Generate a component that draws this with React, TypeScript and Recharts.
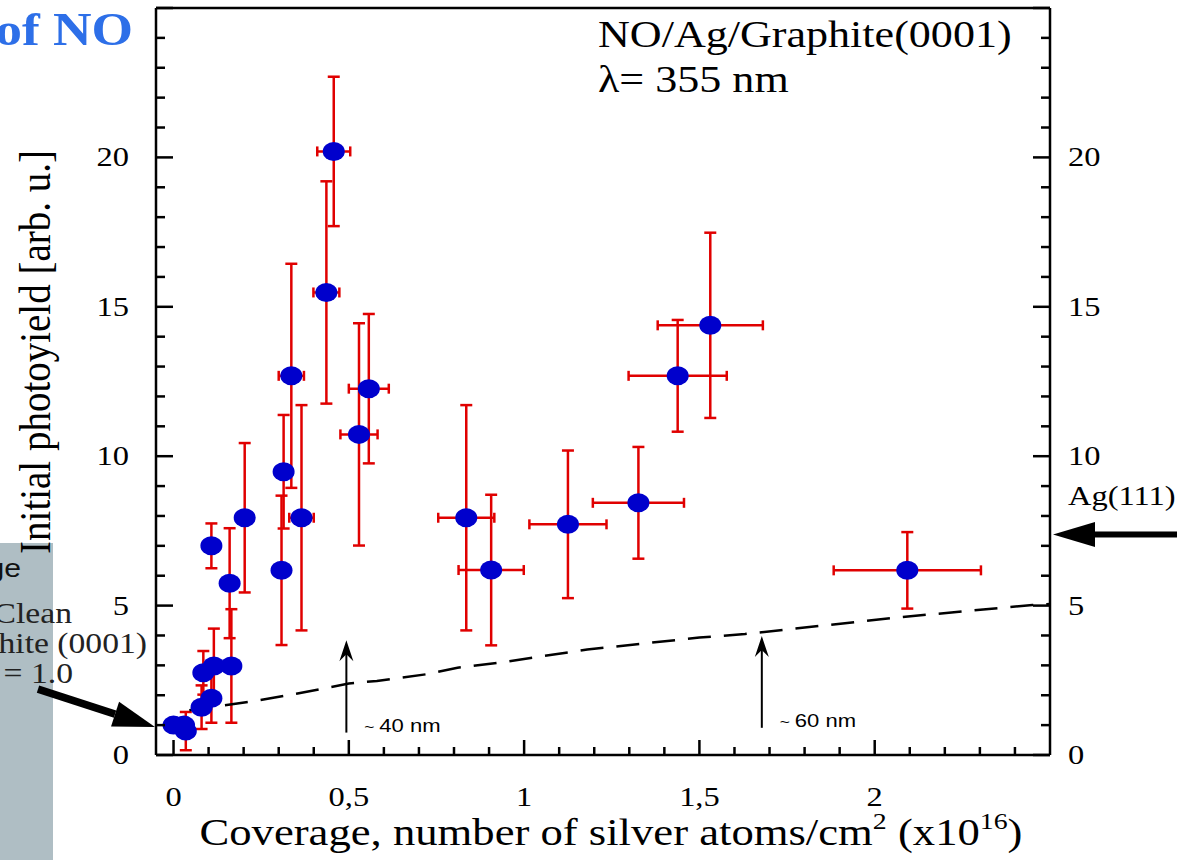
import React from 'react'
import { ScatterChart, Scatter, XAxis, YAxis, ErrorBar, ReferenceLine } from 'recharts'

// measured points: coverage (x10^16 atoms/cm2) vs initial photoyield
const coverage = [0.0, 0.03, 0.035, 0.08, 0.108, 0.085, 0.115, 0.165, 0.108, 0.16, 0.203, 0.308, 0.314, 0.336, 0.365, 0.436, 0.457, 0.529, 0.557, 0.835, 0.906, 1.125, 1.326, 1.438, 1.531, 2.093]
const photoyield = [1.0, 1.0, 0.8, 1.6, 1.9, 2.75, 2.98, 2.98, 7.0, 5.75, 7.94, 6.18, 9.48, 12.69, 7.94, 15.48, 20.2, 10.73, 12.26, 7.94, 6.19, 7.72, 8.44, 12.69, 14.38, 6.18]
const yieldErr = [0, 0, 0.64, 0.73, 0.82, 0.73, 1.25, 1.9, 0.75, 1.84, 2.5, 2.5, 1.9, 3.75, 3.77, 3.72, 2.5, 3.72, 2.5, 3.77, 2.52, 2.47, 1.87, 1.87, 3.1, 1.28]
const coverageErr = [0, 0, 0, 0, 0, 0, 0, 0, 0, 0, 0, 0, 0, 0.036, 0.035, 0.037, 0.047, 0.053, 0.057, 0.08, 0.093, 0.11, 0.13, 0.14, 0.15, 0.21]

// dashed model curve
const modelCoverage = [0.045, 0.23, 0.35, 0.5, 0.58, 0.72, 0.81, 0.93, 1.18, 1.5, 1.63, 2.08, 2.45, 2.5]
const modelYield = [1.5, 1.8, 2.05, 2.39, 2.48, 2.7, 2.92, 3.09, 3.53, 3.93, 4.05, 4.62, 5.02, 5.05]

const xTicks = [0, 0.1, 0.2, 0.3, 0.4, 0.5, 0.6, 0.7, 0.8, 0.9, 1, 1.1, 1.2, 1.3, 1.4, 1.5, 1.6, 1.7, 1.8, 1.9, 2, 2.1, 2.2, 2.3, 2.4]
const yTicks = [0, 1, 2, 3, 4, 5, 6, 7, 8, 9, 10, 11, 12, 13, 14, 15, 16, 17, 18, 19, 20, 21, 22, 23, 24, 25]

// thickness markers (arrows)
const markerCoverage = [0.493, 1.678]
const markerFrom = [0.75, 0.91]
const markerTo = [3.84, 3.98]
const markerLabels = ['40 nm', '60 nm']

const agLevel = 7.38
const cleanLevel = 1.0

const points = coverage.map((x, i) => ({ x, y: photoyield[i], ey: yieldErr[i], ex: coverageErr[i] }))
const model = modelCoverage.map((x, i) => ({ x, y: modelYield[i] }))

const SERIF = '"Liberation Serif", "Times New Roman", serif'
const SANS = '"Liberation Sans", Arial, sans-serif'
const SX = 1.16

function SText({ x, y, size, anchor = 'start', weight, fill = '#000', family = SERIF, children }: any) {
  return (
    <text
      transform={`translate(${x} ${y}) scale(${SX} 1)`}
      fontSize={size}
      textAnchor={anchor}
      fontFamily={family}
      fontWeight={weight}
      fill={fill}
    >
      {children}
    </text>
  )
}

const LeftTick = ({ x, y, payload }: any) => {
  const v = payload.value
  const major = v % 5 === 0
  return (
    <g>
      <line x1={x} y1={y} x2={x + (major ? 17 : 9)} y2={y} stroke="#000" strokeWidth={2.5} />
      {major && v < 25 && <SText x={x - 27} y={y + 9} size={28} anchor="end">{v}</SText>}
    </g>
  )
}

const RightTick = ({ x, y, payload }: any) => {
  const v = payload.value
  const major = v % 5 === 0
  return (
    <g>
      <line x1={x} y1={y} x2={x - (major ? 17 : 9)} y2={y} stroke="#000" strokeWidth={2.5} />
      {major && v < 25 && <SText x={x + 18} y={y + 9} size={28}>{v}</SText>}
    </g>
  )
}

const BottomTick = ({ x, y, payload }: any) => {
  const v = payload.value
  const major = Math.abs(v * 2 - Math.round(v * 2)) < 1e-6
  return (
    <g>
      <line x1={x} y1={y} x2={x} y2={y - (major ? 15 : 8)} stroke="#000" strokeWidth={2.5} />
      {major && <SText x={x} y={y + 51} size={28} anchor="middle">{String(v).replace('.', ',')}</SText>}
    </g>
  )
}

const Dot = ({ cx, cy }: any) => <ellipse cx={cx} cy={cy} rx={11} ry={9.5} fill="#0000cc" />

const makeMarker = (label: string) => (p: any) => {
  const x = p.x1
  const bottom = Math.max(p.y1, p.y2)
  const top = Math.min(p.y1, p.y2)
  return (
    <g>
      <line x1={x} y1={bottom} x2={x} y2={top + 8} stroke="#000" strokeWidth={2} />
      <path d={`M${x},${top} L${x + 7},${top + 21} L${x},${top + 14} L${x - 7},${top + 21} Z`} fill="#000" />
      <SText x={x + 18} y={bottom - 1} size={19} family={SANS}>
        <tspan fontSize={15}>~ </tspan>
        {label}
      </SText>
    </g>
  )
}

const AgArrow = (p: any) => {
  const x = Math.max(p.x1, p.x2)
  const y = p.y1
  return (
    <g>
      <rect x={x + 40} y={y - 3} width={87} height={6} fill="#000" />
      <path d={`M${x + 3},${y} L${x + 45},${y - 12.5} L${x + 45},${y + 12.5} Z`} fill="#000" />
    </g>
  )
}

const CleanArrow = (p: any) => {
  const tx = Math.min(p.x1, p.x2) - 1
  const ty = p.y1 + 2
  const sx = tx - 117
  const sy = ty - 38
  const len = Math.hypot(tx - sx, ty - sy)
  const ux = (tx - sx) / len
  const uy = (ty - sy) / len
  const nx = -uy
  const ny = ux
  const bx = tx - 42 * ux
  const by = ty - 42 * uy
  const w = 3.8
  const h = 13
  return (
    <g>
      <path
        d={`M${sx + nx * w},${sy + ny * w} L${bx + nx * w},${by + ny * w} L${bx - nx * w},${by - ny * w} L${sx - nx * w},${sy - ny * w} Z`}
        fill="#000"
      />
      <path d={`M${tx},${ty} L${bx + nx * h},${by + ny * h} L${bx - nx * h},${by - ny * h} Z`} fill="#000" />
    </g>
  )
}

export default function App() {
  return (
    <div style={{ position: 'absolute', left: 0, top: 0, width: 1202, height: 860, background: '#fff' }}>
      <svg width={1202} height={860} style={{ position: 'absolute', left: 0, top: 0 }}>
        <rect x={0} y={543} width={53} height={317} fill="#afbec4" />
      </svg>

      <div style={{ position: 'absolute', left: 0, top: 0 }}>
        <ScatterChart width={1202} height={860} margin={{ top: 8, right: 0, bottom: 0, left: 0 }}>
          <XAxis
            type="number"
            dataKey="x"
            domain={[-0.05, 2.5]}
            allowDataOverflow
            ticks={xTicks}
            interval={0}
            height={105}
            tickSize={0}
            tickMargin={0}
            tick={BottomTick}
            tickLine={false}
            axisLine={{ stroke: '#000', strokeWidth: 2.5 }}
          />
          <YAxis
            yAxisId="l"
            type="number"
            dataKey="y"
            domain={[0, 25]}
            allowDataOverflow
            ticks={yTicks}
            interval={0}
            width={156}
            tickSize={0}
            tickMargin={0}
            tick={LeftTick}
            tickLine={false}
            axisLine={{ stroke: '#000', strokeWidth: 2.5 }}
          />
          <YAxis
            yAxisId="r"
            orientation="right"
            type="number"
            dataKey="y"
            domain={[0, 25]}
            allowDataOverflow
            ticks={yTicks}
            interval={0}
            width={152}
            tickSize={0}
            tickMargin={0}
            tick={RightTick}
            tickLine={false}
            axisLine={{ stroke: '#000', strokeWidth: 2.5 }}
          />
          <ReferenceLine yAxisId="l" y={25} stroke="#000" strokeWidth={2.5} />
          <Scatter
            yAxisId="l"
            data={model}
            line={{ stroke: '#000', strokeWidth: 2.5, strokeDasharray: '23 13' }}
            lineType="joint"
            shape={() => <g />}
            isAnimationActive={false}
          />
          <Scatter yAxisId="l" data={points} shape={Dot} isAnimationActive={false}>
            <ErrorBar dataKey="ey" direction="y" width={6} stroke="#e00000" strokeWidth={2.5} />
            <ErrorBar dataKey="ex" direction="x" width={5} stroke="#e00000" strokeWidth={2.5} />
          </Scatter>
          {markerCoverage.map((c, i) => (
            <ReferenceLine
              key={i}
              yAxisId="l"
              segment={[{ x: c, y: markerFrom[i] }, { x: c, y: markerTo[i] }]}
              shape={makeMarker(markerLabels[i])}
            />
          ))}
          <ReferenceLine yAxisId="l" y={agLevel} shape={AgArrow} />
          <ReferenceLine yAxisId="l" y={cleanLevel} shape={CleanArrow} />
        </ScatterChart>
      </div>

      <svg width={1202} height={860} style={{ position: 'absolute', left: 0, top: 0, pointerEvents: 'none' }}>
        <SText x={133} y={45} size={46} anchor="end" weight="bold" fill="#2d6fe8">of NO</SText>
        <SText x={598} y={47} size={38}>NO/Ag/Graphite(0001)</SText>
        <SText x={598} y={92} size={38}>λ= 355 nm</SText>
        <SText x={1068} y={505} size={28}>Ag(111)</SText>
        <SText x={21} y={577} size={26} anchor="end" family={SANS} fill="#111">ge</SText>
        <SText x={72} y={623} size={29} anchor="end" fill="#222">Clean</SText>
        <SText x={147} y={653} size={29} anchor="end" fill="#222">hite (0001)</SText>
        <SText x={73} y={683} size={29} anchor="end" fill="#222">= 1.0</SText>
        <text
          transform={`translate(50 352) scale(${SX} 1) rotate(-90)`}
          fontSize={39}
          textAnchor="middle"
          fontFamily={SERIF}
          fill="#000"
        >
          Initial photoyield [arb. u.]
        </text>
        <SText x={611} y={845} size={38.5} anchor="middle">
          Coverage, number of silver atoms/cm
          <tspan fontSize={24} dy={-16}>2</tspan>
          <tspan dy={16}> (x10</tspan>
          <tspan fontSize={24} dy={-16}>16</tspan>
          <tspan dy={16}>)</tspan>
        </SText>
      </svg>
    </div>
  )
}
